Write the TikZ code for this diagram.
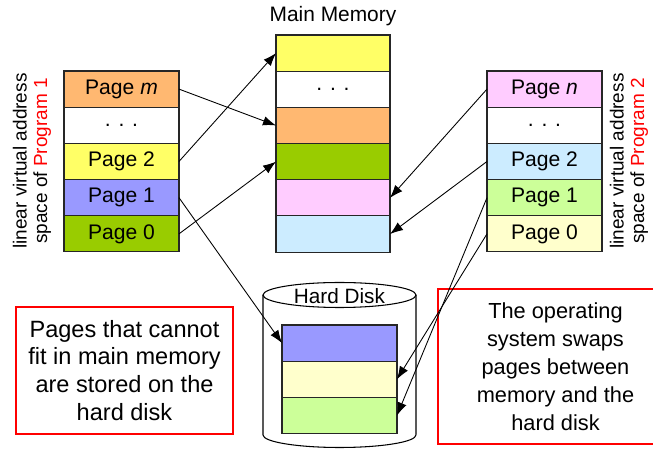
\documentclass[tikz,border=0pt]{standalone}
\usepackage{fontspec}
\setmainfont{Liberation Sans}
\usepackage{xcolor}
\usetikzlibrary{positioning,arrows.meta}
\definecolor{pgorange}{HTML}{FFB871}
\definecolor{pgyellow}{HTML}{FFFF66}
\definecolor{pgviolet}{HTML}{9999FF}
\definecolor{pggreen}{HTML}{99CC00}
\definecolor{pgpink}{HTML}{FFCCFF}
\definecolor{pgblue}{HTML}{CCECFF}
\definecolor{pglgreen}{HTML}{CCFF99}
\definecolor{pglyellow}{HTML}{FFFFCC}
\definecolor{boxred}{HTML}{FF0000}
\tikzset{
  cell/.style={draw=black!85, line width=0.6pt, minimum width=2.3cm, minimum height=0.724cm,
    inner sep=0pt, outer sep=0pt, font=\fontsize{12}{14}\selectfont},
  link/.style={draw=black, line width=0.5pt, -{Latex[length=2.6mm,width=1.9mm]}},
  side/.style={rotate=90, align=center, font=\fontsize{10.8}{11.6}\selectfont},
  note/.style={draw=boxred, line width=1.1pt, align=center, inner sep=0pt,
    font=\fontsize{12.4}{15.9}\selectfont},
}

\begin{document}
\begin{tikzpicture}[x=0.02cm, y=-0.02cm]
  \useasboundingbox (0,0) rectangle (653,452);

  % program 1
  \node[cell, fill=pgorange, anchor=north] (pm) at (121.5,71) {Page \textit{m}};
  \node[cell, fill=white, below=0pt of pm] (ldots) {. . .};
  \node[cell, fill=pgyellow, below=0pt of ldots] (ltwo) {Page 2};
  \node[cell, fill=pgviolet, below=0pt of ltwo] (lone) {Page 1};
  \node[cell, fill=pggreen, below=0pt of lone] (lzero) {Page 0};
  \node[side] (lside) at (32,161) {linear virtual address\\space of \textcolor{boxred}{Program 1}};

  % main memory
  \node (mtitle) at (333,16) {\fontsize{11.9}{14}\selectfont Main Memory};
  \node[cell, fill=pgyellow, anchor=north, minimum width=2.28cm] (mone) at (333,35) {};
  \node[cell, fill=white, minimum width=2.28cm, below=0pt of mone] (mdots) {. . .};
  \node[cell, fill=pgorange, minimum width=2.28cm, below=0pt of mdots] (mthree) {};
  \node[cell, fill=pggreen, minimum width=2.28cm, below=0pt of mthree] (mfour) {};
  \node[cell, fill=pgpink, minimum width=2.28cm, below=0pt of mfour] (mfive) {};
  \node[cell, fill=pgblue, minimum width=2.28cm, below=0pt of mfive] (msix) {};

  % program 2
  \node[cell, fill=pgpink, anchor=north] (pn) at (544.5,71) {Page \textit{n}};
  \node[cell, fill=white, below=0pt of pn] (rdots) {. . .};
  \node[cell, fill=pgblue, below=0pt of rdots] (rtwo) {Page 2};
  \node[cell, fill=pglgreen, below=0pt of rtwo] (rone) {Page 1};
  \node[cell, fill=pglyellow, below=0pt of rone] (rzero) {Page 0};
  \node[side] (rside) at (629,161) {linear virtual address\\space of \textcolor{boxred}{Program 2}};

  % hard disk
  \draw[line width=0.6pt, fill=white] (263,295) -- (263,435) arc[start angle=180, end angle=360,
    x radius=1.53cm, y radius=0.25cm] -- (416,295);
  \draw[line width=0.6pt, fill=white] (339.5,295) ellipse[x radius=1.53cm, y radius=0.25cm];
  \node (dtitle) at (339.5,296) {\fontsize{11.8}{14}\selectfont Hard Disk};
  \node[cell, fill=pgviolet, anchor=north] (done) at (339.5,325) {};
  \node[cell, fill=pglyellow, below=0pt of done] (dtwo) {};
  \node[cell, fill=pglgreen, below=0pt of dtwo] (dthree) {};

  % notes
  \node[note, minimum width=4.34cm, minimum height=2.54cm, font=\fontsize{13.4}{15.9}\selectfont]
    (lnote) at (124.5,370.5) {Pages that cannot\\fit in main memory\\are stored on the\\hard disk};
  \node[note, minimum width=4.7cm, minimum height=3.1cm] (rnote) at (555.5,366.5)
    {The operating\\system swaps\\pages between\\memory and the\\hard disk};

  % mappings
  \draw[link] (pm.east) -- (mthree.west);
  \draw[link] (ltwo.east) -- (mone.west);
  \draw[link] (lzero.east) -- (mfour.west);
  \draw[link] (lone.east) -- (done.west);
  \draw[link] (pn.west) -- (mfive.east);
  \draw[link] (rtwo.west) -- (msix.east);
  \draw[link] (rone.west) -- (dthree.east);
  \draw[link] (rzero.west) -- (dtwo.east);
\end{tikzpicture}
\end{document}
